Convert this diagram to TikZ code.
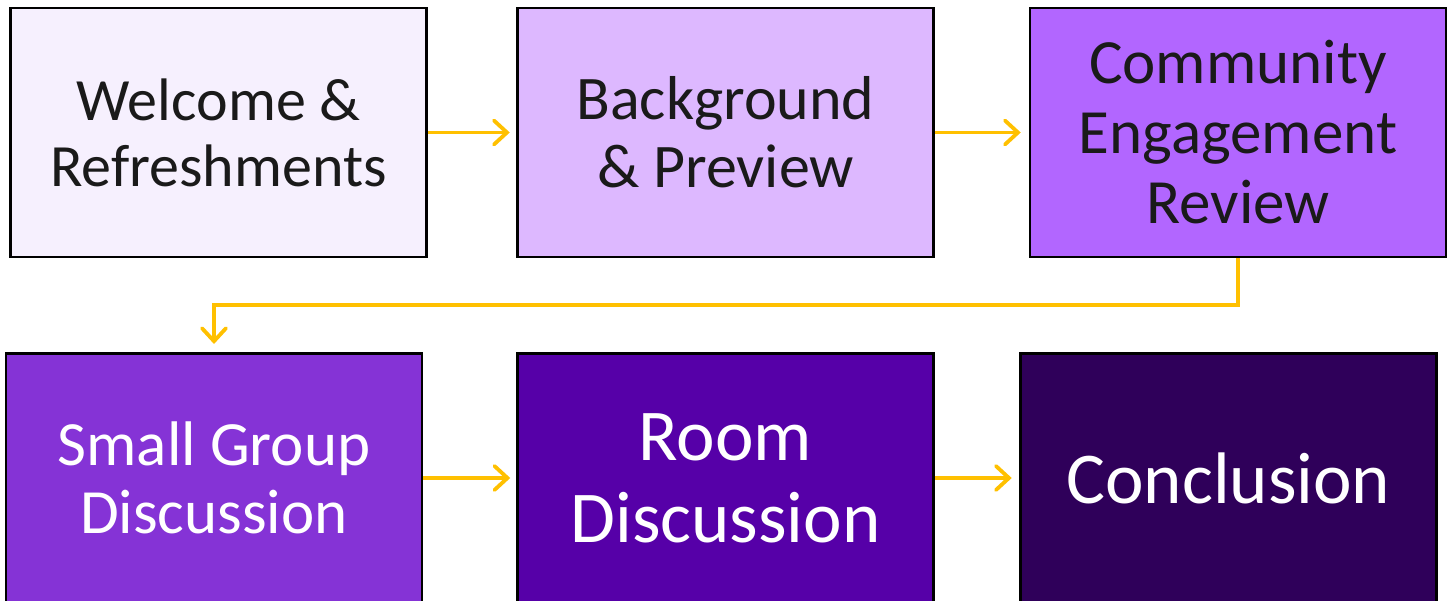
\documentclass[tikz,border=0pt]{standalone}
\usepackage{fontspec}
\setmainfont{Carlito}
\usetikzlibrary{arrows.meta}
\definecolor{cA}{HTML}{F6F0FE}
\definecolor{cB}{HTML}{DDB8FF}
\definecolor{cC}{HTML}{B266FF}
\definecolor{cD}{HTML}{8533D6}
\definecolor{cE}{HTML}{5600A8}
\definecolor{cF}{HTML}{2F005A}
\definecolor{arr}{HTML}{FFC000}
\definecolor{dk}{HTML}{1A1A1A}
\tikzset{
  stepbox/.style={draw=black, line width=2.5pt, minimum width=416pt, minimum height=249pt, inner sep=0pt, align=center, font=\fontsize{60}{66}\selectfont},
  bigbox/.style={stepbox, font=\fontsize{73}{82}\selectfont},
  flow/.style={draw=arr, line width=3.8pt, -{Straight Barb[length=13pt,width=24pt,line cap=round]}},
}
\begin{document}
\begin{tikzpicture}[x=1pt,y=-1pt]
\useasboundingbox (0,0) rectangle (1450,601);
\node[stepbox, fill=cA, text=dk] (a) at (218.5,132.5) {Welcome \&\\Refreshments};
\node[stepbox, fill=cB, text=dk, font=\fontsize{62}{68}\selectfont] (b) at (725.5,132.5) {Background\\\& Preview};
\node[stepbox, fill=cC, text=dk, font=\fontsize{63}{70}\selectfont] (c) at (1238,132.5) {Community\\Engagement\\Review};
\node[stepbox, fill=cD, text=white, font=\fontsize{63}{68}\selectfont] (d) at (214,478) {Small Group\\Discussion};
\node[bigbox, fill=cE, text=white] (e) at (725.5,478) {Room\\Discussion};
\node[bigbox, fill=cF, text=white] (f) at (1228.5,478) {Conclusion};
\coordinate (cd1) at (1238,305);
\coordinate (cd2) at (214,305);
\draw[flow] (a.east) -- ++(82,0);
\draw[flow] (b.east) -- ++(86,0);
\draw[flow] (c.south) -- (cd1) -- (cd2) -- ++(0,39);
\draw[flow] (d.east) -- ++(87,0);
\draw[flow] (e.east) -- ++(77,0);
\end{tikzpicture}
\end{document}
